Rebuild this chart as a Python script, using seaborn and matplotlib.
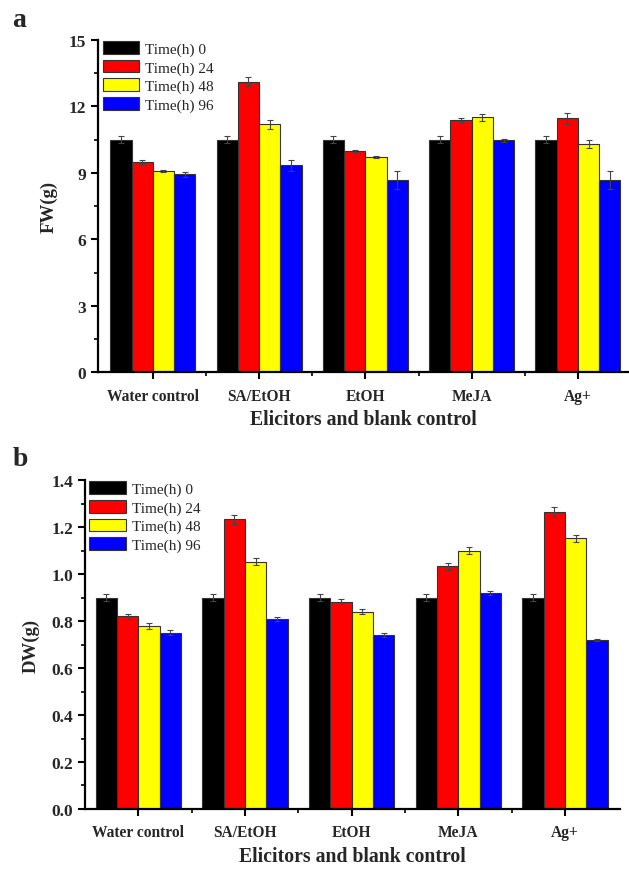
import numpy as np
import pandas as pd
import seaborn as sns
import matplotlib.pyplot as plt
from matplotlib.ticker import MultipleLocator

categories = ["Water control", "SA/EtOH", "EtOH", "MeJA", "Ag+"]
times = ["Time(h) 0", "Time(h) 24", "Time(h) 48", "Time(h) 96"]
colors = ["#000000", "#ff0000", "#ffff00", "#0000ff"]

# fresh weight, one list per time point (same order as categories)
fw_0 = [10.5, 10.5, 10.5, 10.5, 10.5]
fw_24 = [9.49, 13.11, 9.98, 11.38, 11.46]
fw_48 = [9.07, 11.19, 9.71, 11.5, 10.3]
fw_96 = [8.93, 9.35, 8.67, 10.46, 8.67]
fw_err_0 = [0.15, 0.15, 0.15, 0.15, 0.15]
fw_err_24 = [0.1, 0.2, 0.03, 0.08, 0.25]
fw_err_48 = [0.04, 0.2, 0.05, 0.15, 0.2]
fw_err_96 = [0.1, 0.25, 0.4, 0.08, 0.4]

# dry weight
dw_0 = [0.9, 0.9, 0.9, 0.9, 0.9]
dw_24 = [0.82, 1.233, 0.88, 1.033, 1.264]
dw_48 = [0.78, 1.053, 0.84, 1.10, 1.153]
dw_96 = [0.75, 0.81, 0.74, 0.92, 0.72]
dw_err_0 = [0.015, 0.015, 0.015, 0.015, 0.015]
dw_err_24 = [0.012, 0.02, 0.012, 0.015, 0.02]
dw_err_48 = [0.012, 0.015, 0.01, 0.015, 0.015]
dw_err_96 = [0.01, 0.008, 0.008, 0.01, 0.004]


def make_df(series, errs):
    rows = []
    for t, vals, ee in zip(times, series, errs):
        for c, v, e in zip(categories, vals, ee):
            rows.append({"cat": c, "time": t, "value": v, "err": e})
    return pd.DataFrame(rows)


def draw_panel(ax, df, ylim, major, minor, ylabel, xlim):
    sns.barplot(data=df, x="cat", y="value", hue="time", hue_order=times,
                palette=colors, errorbar=None, width=0.8, ax=ax,
                edgecolor="#333333", linewidth=0.8, saturation=1)
    # error bars at the bar centres seaborn produced
    for container, t in zip(ax.containers, times):
        sub = df[df["time"] == t].set_index("cat").loc[categories]
        xs = [p.get_x() + p.get_width() / 2 for p in container.patches]
        ax.errorbar(xs, sub["value"], yerr=sub["err"], fmt="none",
                    ecolor="#444444", elinewidth=0.8, capsize=2.5, capthick=0.8)
    ax.set_ylim(*ylim)
    ax.set_xlim(*xlim)
    ax.yaxis.set_major_locator(MultipleLocator(major))
    ax.yaxis.set_minor_locator(MultipleLocator(minor))
    ax.set_xticks(np.arange(len(categories)))
    ax.set_xticks(np.arange(len(categories) - 1) + 0.5, minor=True)
    ax.set_xticklabels(categories, fontsize=11.2, fontweight="bold")
    for lbl in ax.get_yticklabels():
        lbl.set_fontweight("bold")
        lbl.set_fontsize(12.5)
    ax.tick_params(axis="both", which="major", direction="out", length=5,
                   width=1.5, color="black", bottom=True, left=True)
    ax.tick_params(axis="both", which="minor", direction="out", length=3,
                   width=1.2, color="black", bottom=True, left=True)
    ax.tick_params(axis="x", which="major", pad=6)
    ax.spines["top"].set_visible(False)
    ax.spines["right"].set_visible(False)
    ax.spines["left"].set_linewidth(1.6)
    ax.spines["bottom"].set_linewidth(1.6)
    ax.spines["left"].set_color("black")
    ax.spines["bottom"].set_color("black")
    ax.set_xlabel("Elicitors and blank control", fontsize=14.2, fontweight="bold", labelpad=4)
    ax.set_ylabel(ylabel, fontsize=13.5, fontweight="bold", labelpad=8)
    ax.legend(loc="upper left", bbox_to_anchor=(0.0, 1.01), frameon=False,
              fontsize=11, handlelength=2.4, handleheight=0.9,
              handletextpad=0.35, labelspacing=0.25, borderaxespad=0.2,
              borderpad=0.1)


sns.set_style("ticks")
plt.rcParams["font.family"] = ["Liberation Serif", "DejaVu Serif"]

fig = plt.figure(figsize=(6.29, 8.7), dpi=100)
ax1 = fig.add_axes([0.156, 0.571, 0.843, 0.382])
ax2 = fig.add_axes([0.135, 0.069, 0.850, 0.378])

df_fw = make_df([fw_0, fw_24, fw_48, fw_96], [fw_err_0, fw_err_24, fw_err_48, fw_err_96])
df_dw = make_df([dw_0, dw_24, dw_48, dw_96], [dw_err_0, dw_err_24, dw_err_48, dw_err_96])

draw_panel(ax1, df_fw, (0, 15), 3, 1.5, "FW(g)", (-0.515, 4.475))
draw_panel(ax2, df_dw, (0, 1.4), 0.2, 0.1, "DW(g)", (-0.5, 4.51))

fig.text(0.02, 0.977, "a", fontsize=20, fontweight="bold", va="center", ha="left")
fig.text(0.02, 0.472, "b", fontsize=20, fontweight="bold", va="center", ha="left")

fig.savefig("out.png", dpi=100)
